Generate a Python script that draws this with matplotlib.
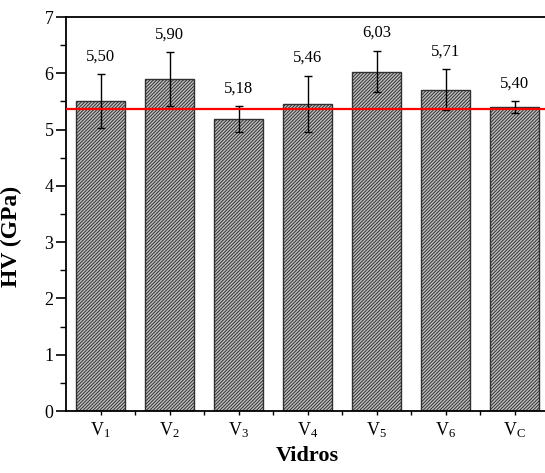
import matplotlib
matplotlib.use("Agg")
import matplotlib.pyplot as plt
from matplotlib.ticker import MultipleLocator, FixedLocator

plt.rcParams['font.family'] = ['Liberation Serif', 'DejaVu Serif']
plt.rcParams['mathtext.fontset'] = 'custom'
plt.rcParams['mathtext.rm'] = 'Liberation Serif'
plt.rcParams['hatch.linewidth'] = 0.7
plt.rcParams['hatch.color'] = '#202020'

# Dureza Vickers dos vidros
vidros = [r'$\mathregular{V_1}$', r'$\mathregular{V_2}$', r'$\mathregular{V_3}$',
          r'$\mathregular{V_4}$', r'$\mathregular{V_5}$', r'$\mathregular{V_6}$',
          r'$\mathregular{V_C}$']
hv = [5.50, 5.90, 5.18, 5.46, 6.03, 5.71, 5.40]
erro = [0.48, 0.48, 0.23, 0.50, 0.37, 0.36, 0.10]
referencia = 5.37

fig = plt.figure(figsize=(5.45, 4.73), dpi=100)
ax = fig.add_axes([66 / 545, 62 / 473, 483 / 545, 394 / 473])

x = list(range(1, len(hv) + 1))
ax.bar(x, hv, width=0.70, color='#c0c0c0', edgecolor='#303030',
       linewidth=1.0, hatch='//////////', zorder=2)
ax.errorbar(x, hv, yerr=erro, fmt='none', ecolor='black', elinewidth=1.0,
            capsize=3, capthick=1.0, zorder=3)
ax.axhline(referencia, color='red', linewidth=1.6, zorder=4)

for xi, v, e in zip(x, hv, erro):
    ax.annotate(f"{v:.2f}".replace('.', ','), (xi, v + e), xytext=(0, 7),
                textcoords='offset points', ha='center', va='bottom',
                fontsize=12)

ax.set_xlim(0.5, 7.5)
ax.set_ylim(0, 7)
ax.set_xticks(x)
ax.set_xticklabels(vidros, fontsize=13)
ax.xaxis.set_minor_locator(FixedLocator([i + 0.5 for i in x]))
ax.yaxis.set_major_locator(MultipleLocator(1))
ax.yaxis.set_minor_locator(MultipleLocator(0.5))
ax.tick_params(axis='y', which='major', direction='out', length=7, width=1.2,
               labelsize=13, pad=2)
ax.tick_params(axis='y', which='minor', direction='out', length=4, width=1.0)
ax.tick_params(axis='x', which='both', direction='out', length=3, width=1.0,
               labelsize=13, pad=4)

for s in ax.spines.values():
    s.set_linewidth(1.3)
ax.spines['right'].set_visible(False)

ax.set_ylabel('HV (GPa)', fontsize=17, fontweight='bold')
ax.yaxis.set_label_coords(-0.091, 0.444)
ax.set_xlabel('Vidros', fontsize=16, fontweight='bold', labelpad=4)

fig.savefig('out.png', dpi=100)
